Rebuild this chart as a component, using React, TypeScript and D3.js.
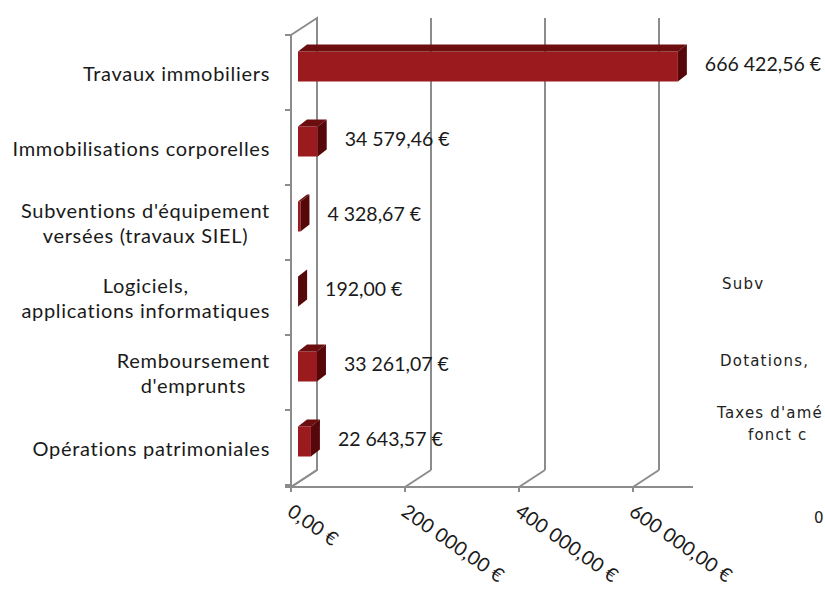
import React, { useEffect, useRef } from "react";
import * as d3 from "d3";

// catégories (lignes des libellés), valeurs et graduations
const categories: string[][] = [
  ["Travaux immobiliers"],
  ["Immobilisations corporelles"],
  ["Subventions d'équipement", "versées (travaux SIEL)"],
  ["Logiciels,", "applications informatiques"],
  ["Remboursement", "d'emprunts"],
  ["Opérations patrimoniales"],
];
const values = [666422.56, 34579.46, 4328.67, 192.0, 33261.07, 22643.57];
const xTicks = [0, 200000, 400000, 600000];
const xMax = 700000;
// morceaux du graphique voisin coupé à droite
const cutTexts = ["Subv", "Dotations,", "Taxes d'amé", "fonct c", "0"];

const frLocale = d3.formatLocale({
  decimal: ",",
  thousands: " ",
  grouping: [3],
  currency: ["", " €"],
});
const euro = frLocale.format("$,.2f");

const App = () => {
  const ref = useRef<SVGSVGElement>(null);

  useEffect(() => {
    const svg = d3.select(ref.current);
    svg.selectAll("*").remove();

    const font = "Lato, 'Open Sans', sans-serif";
    const grid = "#8c8c8c";

    const x = d3.scaleLinear().domain([0, xMax]).range([291, 690]);
    const y = d3
      .scaleBand<number>()
      .domain(categories.map((_, i) => i))
      .range([35, 485]);

    const x0 = x(0);
    const yTop = y.range()[0];
    const yBot = y.range()[1] + 2;
    const wall = { dx: 26, dy: -17 };

    const g = svg.append("g");

    // mur de gauche
    g.append("path")
      .attr(
        "d",
        `M${x0},${yTop} L${x0 + wall.dx},${yTop + wall.dy} L${x0 + wall.dx},${yBot + wall.dy} L${x0},${yBot}`
      )
      .attr("fill", "none")
      .attr("stroke", grid)
      .attr("stroke-width", 2);

    // quadrillage du fond + diagonales du sol
    xTicks.forEach((t) => {
      const xt = x(t);
      g.append("line")
        .attr("x1", xt + wall.dx)
        .attr("x2", xt + wall.dx)
        .attr("y1", yTop + wall.dy)
        .attr("y2", yBot + wall.dy)
        .attr("stroke", grid)
        .attr("stroke-width", 2);
      g.append("line")
        .attr("x1", xt)
        .attr("x2", xt + wall.dx)
        .attr("y1", yBot)
        .attr("y2", yBot + wall.dy)
        .attr("stroke", grid)
        .attr("stroke-width", 2);
      g.append("line")
        .attr("x1", xt)
        .attr("x2", xt)
        .attr("y1", yBot)
        .attr("y2", yBot + 5)
        .attr("stroke", grid)
        .attr("stroke-width", 2);
    });

    // axe vertical avant
    g.append("line")
      .attr("x1", x0)
      .attr("x2", x0)
      .attr("y1", yTop)
      .attr("y2", yBot)
      .attr("stroke", grid)
      .attr("stroke-width", 2);
    const bounds = categories.map((_, i) => y(i)!).concat([y.range()[1]]);
    bounds.forEach((b) => {
      g.append("line")
        .attr("x1", x0 - 6)
        .attr("x2", x0)
        .attr("y1", b)
        .attr("y2", b)
        .attr("stroke", grid)
        .attr("stroke-width", 2);
    });

    // axe horizontal avant
    g.append("line")
      .attr("x1", x0 - 6)
      .attr("x2", x(xMax) + 3)
      .attr("y1", yBot)
      .attr("y2", yBot)
      .attr("stroke", grid)
      .attr("stroke-width", 2);

    // barres 3D
    const bar = { off: 7, dx: 9, dy: -7, top: 16.5, h: 30 };
    values.forEach((v, i) => {
      const bx0 = x0 + bar.off;
      const bx1 = x(v) + bar.off;
      const t = y(i)! + bar.top;
      const b = t + bar.h;
      g.append("rect")
        .attr("x", bx0)
        .attr("y", t)
        .attr("width", Math.max(bx1 - bx0, 0.5))
        .attr("height", bar.h)
        .attr("fill", "#9a1a1e");
      g.append("path")
        .attr(
          "d",
          `M${bx0},${t} L${bx0 + bar.dx},${t + bar.dy} L${bx1 + bar.dx},${t + bar.dy} L${bx1},${t} Z`
        )
        .attr("fill", "#6c0d10");
      g.append("path")
        .attr(
          "d",
          `M${bx1},${t} L${bx1 + bar.dx},${t + bar.dy} L${bx1 + bar.dx},${b + bar.dy} L${bx1},${b} Z`
        )
        .attr("fill", "#560709");

      g.append("text")
        .attr("x", bx1 + bar.dx + 18)
        .attr("y", y(i)! + y.bandwidth() / 2 - 6)
        .attr("dominant-baseline", "middle")
        .attr("font-family", font)
        .attr("font-size", 19.5)
        .attr("fill", "#1a1a1a")
        .text(euro(v));
    });

    // libellés des catégories, bloc aligné à droite, lignes centrées
    categories.forEach((lines, i) => {
      const cy = y(i)! + y.bandwidth() / 2 + 3;
      const tg = g.append("g");
      const texts = lines.map((ln, k) =>
        tg
          .append("text")
          .attr("y", cy + (k - (lines.length - 1) / 2) * 25)
          .attr("dominant-baseline", "middle")
          .attr("text-anchor", "middle")
          .attr("font-family", font)
          .attr("font-size", 20)
          .attr("letter-spacing", 0.7)
          .attr("fill", "#1a1a1a")
          .text(ln)
      );
      const w = d3.max(texts, (t) => (t.node() as SVGTextElement).getComputedTextLength()) || 0;
      texts.forEach((t) => t.attr("x", 270 - w / 2));
    });

    // graduations inclinées
    xTicks.forEach((t) => {
      g.append("text")
        .attr("transform", `translate(${x(t) - 1},${yBot + 22}) rotate(35)`)
        .attr("dy", "0.35em")
        .attr("font-family", font)
        .attr("font-size", 19.5)
        .attr("letter-spacing", 0.3)
        .attr("fill", "#1a1a1a")
        .text(euro(t));
    });

    // textes du graphique voisin, coupés par le bord
    const cut = [
      [722, 284],
      [720, 361],
      [717, 413],
      [748, 435],
      [814, 518],
    ];
    cutTexts.forEach((s, i) => {
      g.append("text")
        .attr("x", cut[i][0])
        .attr("y", cut[i][1])
        .attr("dominant-baseline", "middle")
        .attr("font-family", "'DejaVu Sans', sans-serif")
        .attr("font-size", 15)
        .attr("letter-spacing", 1.2)
        .attr("fill", "#222")
        .text(s);
    });
  }, []);

  return (
    <svg
      ref={ref}
      width={825}
      height={590}
      style={{ position: "absolute", left: 0, top: 0, background: "#fff" }}
    />
  );
};

export default App;
